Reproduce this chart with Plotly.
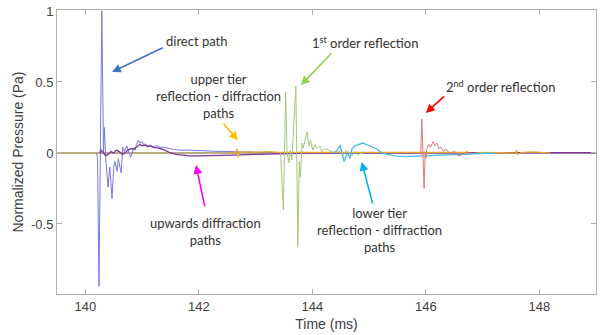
import plotly.graph_objects as go

# ---- data ----
x_tick_vals = [140, 142, 144, 146, 148]
y_tick_vals = [1, 0.5, 0, -0.5]
y_tick_text = ["1", "0.5", "0", "-0.5"]

baseline_t = [139.5, 149.0]
baseline_p = [0.0, 0.0]

direct_t = [140.20, 140.215, 140.24, 140.29, 140.32, 140.335, 140.36, 140.40, 140.43, 140.47,
            140.50, 140.52, 140.56, 140.58, 140.63, 140.66, 140.69, 140.73, 140.77, 140.80,
            140.85, 140.88, 140.90, 140.93, 140.96, 141.00, 141.03, 141.05, 141.10, 141.14,
            141.20, 141.25, 141.31, 141.40, 141.49, 141.60, 141.67, 141.80, 142.02, 142.30,
            142.55, 142.80, 143.08, 143.50, 149.0]
direct_p = [0.0, -0.05, -0.94, 1.0, 0.0, 0.18, -0.05, -0.24, -0.10, -0.32,
            -0.10, -0.06, -0.13, -0.04, -0.14, 0.04, 0.01, 0.05, 0.0, -0.03,
            0.03, 0.02, 0.06, 0.09, 0.07, 0.08, 0.055, 0.065, 0.05, 0.055,
            0.045, 0.05, 0.04, 0.04, 0.03, 0.025, 0.02, 0.02, 0.015, 0.012,
            0.01, 0.008, 0.005, 0.002, 0.0]

upward_t = [140.25, 140.28, 140.32, 140.36, 140.40, 140.45, 140.50, 140.55, 140.60, 140.65,
            140.70, 140.75, 140.80, 140.85, 140.90, 140.96, 141.00, 141.05, 141.10, 141.15,
            141.20, 141.30, 141.40, 141.50, 141.60, 141.70, 141.84, 142.00, 142.20, 142.37,
            142.60, 143.00, 143.50, 144.00, 148.20, 149.0]
upward_p = [0.0, 0.02, 0.0, -0.02, -0.01, 0.01, 0.0, 0.02, 0.01, -0.01,
            0.0, 0.02, 0.03, 0.03, 0.04, 0.06, 0.05, 0.055, 0.045, 0.05,
            0.04, 0.035, 0.02, 0.0, -0.01, -0.015, -0.02, -0.02, -0.02, -0.02,
            -0.015, -0.01, -0.005, 0.0, 0.003, 0.003]

upper_t = [142.50, 142.64, 142.67, 142.69, 142.72, 142.80, 142.90, 143.00, 143.20, 143.40,
           146.70, 146.73, 146.76, 147.00, 147.58, 147.60, 147.62, 147.70, 147.90, 148.10, 148.20]
upper_p = [0.0, 0.0, 0.03, -0.03, 0.01, 0.005, 0.01, 0.005, 0.01, 0.005,
           0.005, 0.012, -0.008, 0.005, 0.0, 0.02, -0.01, 0.005, 0.008, 0.005, 0.0]

first_t = [143.44, 143.49, 143.53, 143.555, 143.59, 143.61, 143.64, 143.71, 143.745, 143.77,
           143.79, 143.82, 143.84, 143.87, 143.905, 143.94, 143.97, 144.01, 144.05, 144.08,
           144.13, 144.17, 144.22, 144.28, 144.35, 144.42, 144.50, 144.55, 144.60, 144.65,
           144.70, 144.75, 144.80, 144.90]
first_p = [0.0, -0.40, 0.43, 0.0, -0.07, 0.02, -0.05, 0.47, -0.66, -0.06,
           -0.17, 0.07, 0.035, 0.09, 0.15, 0.05, 0.09, 0.02, 0.06, 0.03,
           0.05, 0.01, 0.03, 0.02, 0.01, 0.0, 0.015, -0.01, 0.02, 0.0,
           -0.02, 0.01, -0.01, 0.0]

lower_t = [144.38, 144.44, 144.49, 144.53, 144.56, 144.60, 144.63, 144.66, 144.70, 144.75,
           144.82, 144.89, 144.95, 145.05, 145.10, 145.16, 145.23, 145.32, 145.46, 145.63,
           145.90, 146.25, 146.50, 146.80, 147.20]
lower_p = [0.0, 0.02, 0.055, 0.0, -0.06, -0.02, 0.0, -0.04, 0.03, 0.05,
           0.06, 0.07, 0.06, 0.045, 0.035, 0.02, 0.0, -0.01, -0.02, -0.025,
           -0.02, -0.015, -0.01, -0.006, 0.0]

second_t = [145.88, 145.91, 145.93, 145.97, 145.99, 146.00, 146.02, 146.05, 146.08, 146.13,
            146.16, 146.20, 146.23, 146.27, 146.31, 146.34, 146.38, 146.41, 146.45, 146.48,
            146.53, 146.57, 146.62, 146.69, 146.80]
second_p = [0.0, -0.01, 0.24, -0.25, 0.0, -0.04, 0.03, 0.06, 0.04, 0.08,
            0.05, 0.07, 0.03, 0.04, 0.01, 0.025, 0.02, 0.0, -0.01, 0.01,
            0.005, -0.02, -0.015, 0.0, 0.0]

fig = go.Figure()

fig.add_trace(go.Scatter(x=baseline_t, y=baseline_p, mode="lines",
                         line=dict(color="#a0905c", width=1.6), hoverinfo="skip"))
fig.add_trace(go.Scatter(x=direct_t, y=direct_p, mode="lines",
                         line=dict(color="#7878e4", width=1), hoverinfo="skip"))
fig.add_trace(go.Scatter(x=upward_t, y=upward_p, mode="lines",
                         line=dict(color="#80359a", width=1.3), hoverinfo="skip"))
fig.add_trace(go.Scatter(x=upper_t, y=upper_p, mode="lines",
                         line=dict(color="#e8ac28", width=1.2), hoverinfo="skip"))
fig.add_trace(go.Scatter(x=first_t, y=first_p, mode="lines",
                         line=dict(color="#a8c67c", width=1), hoverinfo="skip"))
fig.add_trace(go.Scatter(x=lower_t, y=lower_p, mode="lines",
                         line=dict(color="#4cb8ec", width=1.3), hoverinfo="skip"))
fig.add_trace(go.Scatter(x=second_t, y=second_p, mode="lines",
                         line=dict(color="#e07878", width=1), hoverinfo="skip"))

afont = dict(family="Lato, 'Open Sans', sans-serif", size=13, color="#333333")

texts = [
    ("direct path", 141.97, 0.789),
    ("upper tier<br>reflection - diffraction<br>paths", 142.34, 0.40),
    ("1<sup>st</sup> order reflection", 144.94, 0.78),
    ("2<sup>nd</sup> order reflection", 147.32, 0.465),
    ("upwards diffraction<br>paths", 142.11, -0.55),
    ("lower tier<br>reflection - diffraction<br>paths", 145.19, -0.54),
]
for t, x, y in texts:
    fig.add_annotation(x=x, y=y, text=t, showarrow=False, font=afont,
                       xanchor="center", yanchor="middle", align="center")

arrows = [
    (140.47, 0.57, 141.39, 0.746, "#4472c4"),
    (142.69, 0.09, 142.41, 0.218, "#ffc000"),
    (143.80, 0.479, 144.36, 0.711, "#92d050"),
    (146.0, 0.282, 146.35, 0.408, "#ff0000"),
    (141.95, -0.085, 142.11, -0.387, "#ff00ff"),
    (144.87, -0.063, 145.07, -0.366, "#00b0f0"),
]
for hx, hy, tx, ty, c in arrows:
    fig.add_annotation(x=hx, y=hy, ax=tx, ay=ty, xref="x", yref="y",
                       axref="x", ayref="y", text="", showarrow=True,
                       arrowhead=2, arrowsize=1.1, arrowwidth=1.6, arrowcolor=c)

axis_common = dict(showline=True, linecolor="#b0b0b0", linewidth=1, mirror="ticks",
                   ticks="inside", ticklen=5, tickcolor="#b0b0b0", showgrid=False,
                   zeroline=False,
                   tickfont=dict(family="Liberation Sans, Arial, sans-serif", size=13, color="#404040"))

fig.update_xaxes(range=[139.5, 149.0], tickvals=x_tick_vals,
                 title=dict(text="Time (ms)", standoff=6,
                            font=dict(family="Liberation Sans, Arial, sans-serif", size=14, color="#404040")),
                 **axis_common)
fig.update_yaxes(range=[-0.993, 1.007], tickvals=y_tick_vals, ticktext=y_tick_text,
                 title=dict(text="Normalized Pressure (Pa)", standoff=4,
                            font=dict(family="Liberation Sans, Arial, sans-serif", size=14, color="#404040")),
                 **axis_common)

fig.update_layout(width=601, height=335, showlegend=False,
                  margin=dict(l=57, r=5, t=10, b=41),
                  plot_bgcolor="white", paper_bgcolor="white")

fig.write_html("out.html", config={"displayModeBar": False},
               post_script="document.body.style.margin='0';document.body.style.padding='0';")
